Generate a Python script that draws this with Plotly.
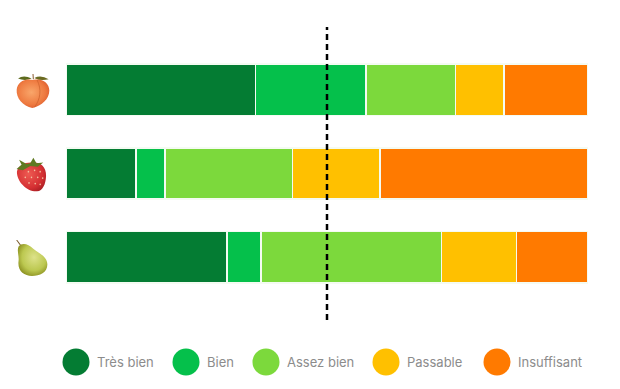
import base64
import plotly.graph_objects as go

fruits = ["Pêche", "Fraise", "Poire"]
ratings = ["Très bien", "Bien", "Assez bien", "Passable", "Insuffisant"]
colors = ["#047C33", "#05C04B", "#7CD93C", "#FFC000", "#FF7A00"]
tres_bien = [36.3, 13.4, 30.8]
bien = [21.2, 5.6, 6.5]
assez_bien = [17.1, 24.4, 34.6]
passable = [9.3, 16.7, 14.4]
insuffisant = [16.1, 39.9, 13.7]
series = [tres_bien, bien, assez_bien, passable, insuffisant]
threshold = 50

W, H = 620, 389
L, R, T, B = 66, 32, 27, 69
px = lambda x: (x - L) / (W - L - R)
py = lambda y: 1 - (y - T) / (H - T - B)

fig = go.Figure()
for name, vals, col in zip(ratings, series, colors):
    fig.add_bar(y=fruits, x=vals, name=name, orientation="h",
                marker=dict(color=col, line=dict(color="#F4FBF2", width=1.6)),
                showlegend=False)

fig.add_shape(type="line", xref="x", yref="paper", x0=threshold, x1=threshold, y0=0, y1=1,
              line=dict(color="black", width=2.5, dash="6px,4px"), layer="above")

LEG_CX = [76, 186, 266, 386, 497]
LEG_Y = 362
for name, col, cx in zip(ratings, colors, LEG_CX):
    r = 13.5
    fig.add_shape(type="circle", xref="paper", yref="paper",
                  x0=px(cx - r), x1=px(cx + r), y0=py(LEG_Y + r), y1=py(LEG_Y - r),
                  fillcolor=col, line=dict(width=0))
    fig.add_annotation(xref="paper", yref="paper", x=px(cx + 19), y=py(LEG_Y),
                       text=name, showarrow=False, xanchor="left", yanchor="middle",
                       font=dict(family="Inter", size=13, color="#8C8C8C"))

peach = """<svg xmlns='http://www.w3.org/2000/svg' viewBox='0 0 100 100'>
<defs><radialGradient id='a' cx='.45' cy='.45' r='.65'><stop offset='0' stop-color='#F9A66A'/><stop offset='.65' stop-color='#EE7A40'/><stop offset='1' stop-color='#D9552B'/></radialGradient></defs>
<path d='M6 16 Q22 4 46 16 Q26 24 6 16Z' fill='#5E6B1E'/><path d='M54 14 Q74 4 96 18 Q72 24 54 14Z' fill='#6B6A20'/>
<path d='M48 100 C20 94 0 72 2 48 C4 26 26 14 50 20 C76 14 98 28 98 50 C98 74 76 94 48 100Z' fill='url(#a)'/>
<path d='M62 20 C76 46 72 76 54 98' stroke='#C9602C' stroke-width='2' fill='none'/>
<path d='M50 3 L51 18' stroke='#8a5a30' stroke-width='3'/></svg>"""
berry = """<svg xmlns='http://www.w3.org/2000/svg' viewBox='0 0 100 100'>
<defs><radialGradient id='b' cx='.4' cy='.4' r='.7'><stop offset='0' stop-color='#EE5A52'/><stop offset='.7' stop-color='#D42F32'/><stop offset='1' stop-color='#A81E24'/></radialGradient></defs>
<path d='M68 98 C36 100 2 70 3 42 C6 24 30 14 54 16 C76 14 98 26 97 54 C96 78 86 96 68 98Z' fill='url(#b)'/>
<path d='M56 2 L66 18 L88 16 L70 28 L46 26 L22 38 L2 34 L18 22 L10 8 L34 20 L46 18Z' fill='#5F7A22'/>
<g fill='#F3C0A0'><circle cx='40' cy='42' r='2.5'/><circle cx='60' cy='38' r='2.5'/><circle cx='78' cy='42' r='2.5'/><circle cx='30' cy='58' r='2.5'/><circle cx='50' cy='58' r='2.5'/><circle cx='70' cy='58' r='2.5'/><circle cx='86' cy='60' r='2.5'/><circle cx='42' cy='74' r='2.5'/><circle cx='62' cy='76' r='2.5'/><circle cx='78' cy='78' r='2.5'/></g></svg>"""
pear = """<svg xmlns='http://www.w3.org/2000/svg' viewBox='0 0 100 100'>
<defs><radialGradient id='c' cx='.55' cy='.42' r='.68'><stop offset='0' stop-color='#DDE28A'/><stop offset='.6' stop-color='#BCC850'/><stop offset='1' stop-color='#7F8215'/></radialGradient></defs>
<path d='M2 0 L14 14' stroke='#7A5A2A' stroke-width='3'/>
<path d='M8 18 C18 6 38 10 54 24 C70 36 98 46 98 68 C98 90 74 100 50 100 C24 100 4 86 8 58 C10 44 2 30 8 18Z' fill='url(#c)'/></svg>"""

icons = [(peach, 16, 73, 34, 35), (berry, 16, 157, 31, 35), (pear, 16, 240, 32, 36)]
for svg, x, y, w, h in icons:
    fig.add_layout_image(source="data:image/svg+xml;base64," + base64.b64encode(svg.encode()).decode(),
                         xref="paper", yref="paper", x=px(x), y=py(y),
                         sizex=w / (W - L - R), sizey=h / (H - T - B),
                         xanchor="left", yanchor="top", sizing="stretch", layer="above")

fig.update_layout(width=W, height=H, barmode="stack", bargap=0.385,
                  margin=dict(l=L, r=R, t=T, b=B), paper_bgcolor="white", plot_bgcolor="white",
                  xaxis=dict(range=[0, 100], visible=False),
                  yaxis=dict(range=[2.754, -0.754], visible=False))
fig.write_html("out.html", config={"displayModeBar": False},
               post_script="document.body.style.margin='0';document.documentElement.style.overflow='hidden';")
